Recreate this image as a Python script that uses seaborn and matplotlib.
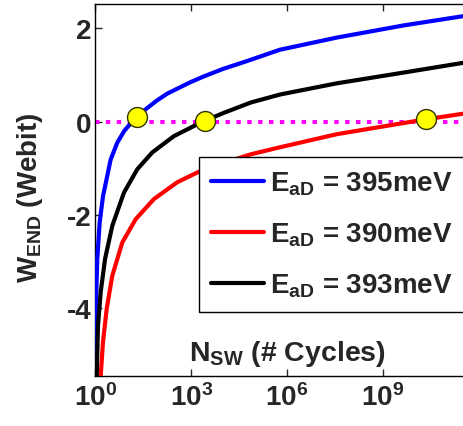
import matplotlib
matplotlib.use("Agg")
import numpy as np
import pandas as pd
import seaborn as sns
import matplotlib.pyplot as plt

# ---- data (x given as log10 of N_SW) ----
blue_exp = [0.006, 0.015, 0.025, 0.056, 0.132, 0.235, 0.476, 0.683, 0.90, 1.15, 1.31, 1.60, 1.92, 2.25, 2.96, 3.40, 4.0, 4.76, 5.78, 7.56, 9.65, 11.53, 12.0]
blue_w = [-5.45, -4.30, -3.65, -2.94, -2.15, -1.60, -0.81, -0.45, -0.20, 0.00, 0.10, 0.28, 0.45, 0.60, 0.84, 0.97, 1.13, 1.30, 1.54, 1.80, 2.06, 2.26, 2.31]

black_exp = [0.038, 0.078, 0.163, 0.30, 0.527, 0.893, 1.31, 1.78, 2.46, 3.30, 4.03, 4.87, 5.78, 7.56, 9.65, 11.53, 12.0]
black_w = [-5.45, -4.37, -3.65, -2.94, -2.23, -1.52, -1.02, -0.66, -0.31, -0.02, 0.19, 0.41, 0.58, 0.82, 1.05, 1.26, 1.31]

red_exp = [0.163, 0.235, 0.351, 0.527, 0.84, 1.26, 1.83, 2.56, 3.40, 4.28, 4.87, 5.78, 7.56, 10.36, 11.53, 12.0]
red_w = [-5.45, -4.72, -4.01, -3.30, -2.59, -2.09, -1.66, -1.30, -1.02, -0.83, -0.70, -0.55, -0.27, 0.05, 0.17, 0.22]

marker_exp = [1.31, 3.44, 10.36]
marker_w = [0.10, 0.01, 0.05]

series_labels = [r"$E_{aD}$ = 395meV", r"$E_{aD}$ = 390meV", r"$E_{aD}$ = 393meV"]
series_colors = ["#0000FF", "#FF0000", "#000000"]

x_tick_exps = [0, 3, 6, 9]
y_ticks = [-4, -2, 0, 2]
y_tick_labels = ["-4", "-2", "0", "2"]

# ---- style ----
sns.set_style("ticks")
plt.rcParams["font.family"] = ["Liberation Sans", "DejaVu Sans"]
plt.rcParams["font.weight"] = "bold"
plt.rcParams["mathtext.fontset"] = "custom"
plt.rcParams["mathtext.rm"] = "Liberation Sans:bold"
plt.rcParams["mathtext.it"] = "Liberation Sans:bold"
plt.rcParams["mathtext.bf"] = "Liberation Sans:bold"
plt.rcParams["mathtext.default"] = "rm"

W, H = 464, 427
fig = plt.figure(figsize=(W / 100, H / 100), dpi=100)
x0_px, dec_px = 95.5, 31.9
ax_left = x0_px / W
ax_width = (12 * dec_px) / W
ax_bottom = (H - 377) / H
ax_height = (377 - 5) / H
ax = fig.add_axes([ax_left, ax_bottom, ax_width, ax_height])

# zero line
ax.axhline(0, color="#FF00FF", lw=2.9, linestyle=(0, (1.1, 1.6)), zorder=1)

frames = []
for exps, ws, lab in zip([blue_exp, red_exp, black_exp], [blue_w, red_w, black_w], series_labels):
    frames.append(pd.DataFrame({"N": 10.0 ** np.array(exps), "W": ws, "series": lab}))
df = pd.concat(frames, ignore_index=True)

for lab, col in zip(series_labels, series_colors):
    sub = df[df["series"] == lab]
    sns.lineplot(data=sub, x="N", y="W", color=col, lw=3, label=lab, ax=ax,
                 sort=False, estimator=None, zorder=3)
for ln in ax.get_lines():
    ln.set_solid_joinstyle("round")

mk = pd.DataFrame({"N": 10.0 ** np.array(marker_exp), "W": marker_w})
sns.scatterplot(data=mk, x="N", y="W", ax=ax, s=205, color="#FFFF00",
                edgecolor="#333300", linewidth=1.0, zorder=5, legend=False)

ax.set_xscale("log")
ax.set_xlim(1, 1e12)
ax.set_ylim(-5.45, 2.52)
ax.set_xticks([10.0 ** e for e in x_tick_exps])
ax.set_xticklabels([rf"$10^{{{e}}}$" for e in x_tick_exps])
ax.minorticks_off()
ax.set_yticks(y_ticks)
ax.set_yticklabels(y_tick_labels)
ax.tick_params(axis="both", direction="in", top=True, right=True, length=5,
               width=1, labelsize=20, pad=3)
for lbl in ax.get_xticklabels() + ax.get_yticklabels():
    lbl.set_fontweight("bold")
ax.tick_params(axis="x", pad=5)
for sp in ax.spines.values():
    sp.set_linewidth(1.0)
    sp.set_color("black")
ax.set_xlabel("")
ax.set_ylabel("")

# labels
fig.text(30 / W, 1 - 198 / H, r"$W_{END}$ (Webit)", rotation=90, ha="center",
         va="center", fontsize=20, fontweight="bold")
fig.text(287 / W, (H - 361) / H, r"$N_{SW}$ (# Cycles)", ha="center",
         va="baseline", fontsize=20.5, fontweight="bold")

leg = ax.legend(loc="upper left", bbox_to_anchor=(199 / W, 1 - 158 / H),
                bbox_transform=fig.transFigure, frameon=True, fancybox=False,
                edgecolor="black", framealpha=1, borderaxespad=0,
                prop={"size": 20, "weight": "bold"}, handlelength=1.9,
                handletextpad=0.2, labelspacing=0.85, borderpad=0.45)
leg.get_frame().set_linewidth(1.0)
for line in leg.get_lines():
    line.set_linewidth(3)

fig.savefig("out.png", dpi=100)
